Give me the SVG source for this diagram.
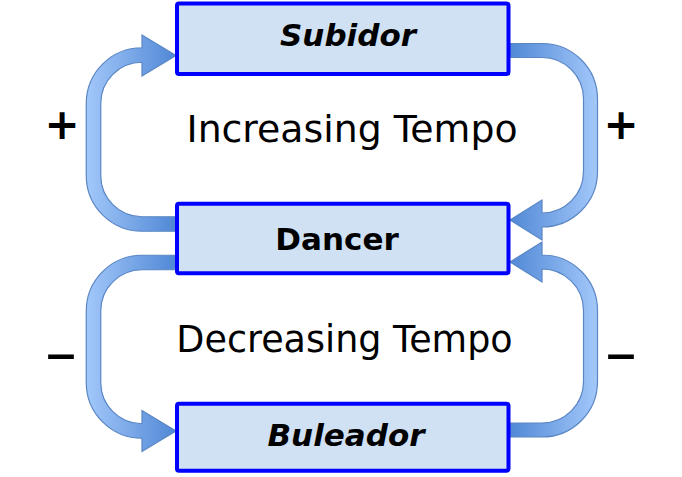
<svg xmlns="http://www.w3.org/2000/svg" width="682" height="477" viewBox="0 0 682 477">
<defs>
<linearGradient id="gL" x1="0" y1="0" x2="1" y2="0">
<stop offset="0" stop-color="#a3c8fa"/>
<stop offset="1" stop-color="#4f87d5"/>
</linearGradient>
<linearGradient id="gR" x1="0" y1="0" x2="1" y2="0">
<stop offset="0" stop-color="#4f87d5"/>
<stop offset="1" stop-color="#a3c8fa"/>
</linearGradient>
<style>
.box{fill:#cfe1f3;stroke:#0000ff;stroke-width:4}
.lbl{font-family:"DejaVu Sans",sans-serif;font-weight:bold;font-size:31px;fill:#000;text-anchor:middle}
.it{font-style:italic}
.cap{font-family:"DejaVu Sans",sans-serif;fill:#000;text-anchor:middle}
.sign{font-family:"DejaVu Sans",sans-serif;font-weight:bold;fill:#000;text-anchor:middle}
.dash{font-family:"DejaVu Sans",sans-serif;font-size:64px;fill:#000;text-anchor:middle}
.arr{stroke:#5a86c4;stroke-width:1.2}
</style>
</defs>
<rect width="682" height="477" fill="#fff"/>
<g id="connectors">
<path class="arr" fill="url(#gL)" d="M 177 216.75 L 142 216.75 A 41.25 41.25 0 0 1 100.75 175.5 L 100.75 103.5 A 41.25 41.25 0 0 1 142 62.25 L 142 76 L 176 55.5 L 142 35 L 142 47.75 A 55.75 55.75 0 0 0 86.25 103.5 L 86.25 175.5 A 55.75 55.75 0 0 0 142 231.25 L 177 231.25 Z"/>
<path class="arr" fill="url(#gL)" d="M 177 255.25 L 142 255.25 A 55.75 55.75 0 0 0 86.25 311 L 86.25 382.5 A 55.75 55.75 0 0 0 142 438.25 L 142 451.5 L 176 431 L 142 410.5 L 142 423.75 A 41.25 41.25 0 0 1 100.75 382.5 L 100.75 311 A 41.25 41.25 0 0 1 142 269.75 L 177 269.75 Z"/>
<path class="arr" fill="url(#gR)" d="M 508 43.5 L 542 43.5 A 55.5 55.5 0 0 1 597.5 99 L 597.5 171.5 A 55.5 55.5 0 0 1 542 227 L 542 240 L 510 220 L 542 200 L 542 213 A 41.5 41.5 0 0 0 583.5 171.5 L 583.5 99 A 41.5 41.5 0 0 0 542 57.5 L 508 57.5 Z"/>
<path class="arr" fill="url(#gR)" d="M 508 437 L 542 437 A 55.5 55.5 0 0 0 597.5 381.5 L 597.5 310.5 A 55.5 55.5 0 0 0 542 255 L 542 242 L 510 262 L 542 282 L 542 269 A 41.5 41.5 0 0 1 583.5 310.5 L 583.5 381.5 A 41.5 41.5 0 0 1 542 423 L 508 423 Z"/>
</g>
<g id="subidor">
<rect class="box" x="177" y="3.5" width="331.5" height="70.5" rx="2"/>
<text class="lbl it" x="348" y="46">Subidor</text>
</g>
<g id="dancer">
<rect class="box" x="177" y="203.7" width="331.5" height="69.5" rx="2"/>
<text class="lbl" x="337" y="250">Dancer</text>
</g>
<g id="buleador">
<rect class="box" x="177" y="403.7" width="331.5" height="67" rx="2"/>
<text class="lbl it" x="346" y="445.7">Buleador</text>
</g>
<text class="cap" x="352" y="142" font-size="37.8">Increasing Tempo</text>
<text class="cap" x="344.5" y="352" font-size="36.5">Decreasing Tempo</text>
<text class="sign" x="62" y="138.5" font-size="42">+</text>
<text class="sign" x="621" y="138.5" font-size="42">+</text>
<text class="dash" x="61" y="374.4">–</text>
<text class="dash" x="621" y="374.4">–</text>
</svg>
